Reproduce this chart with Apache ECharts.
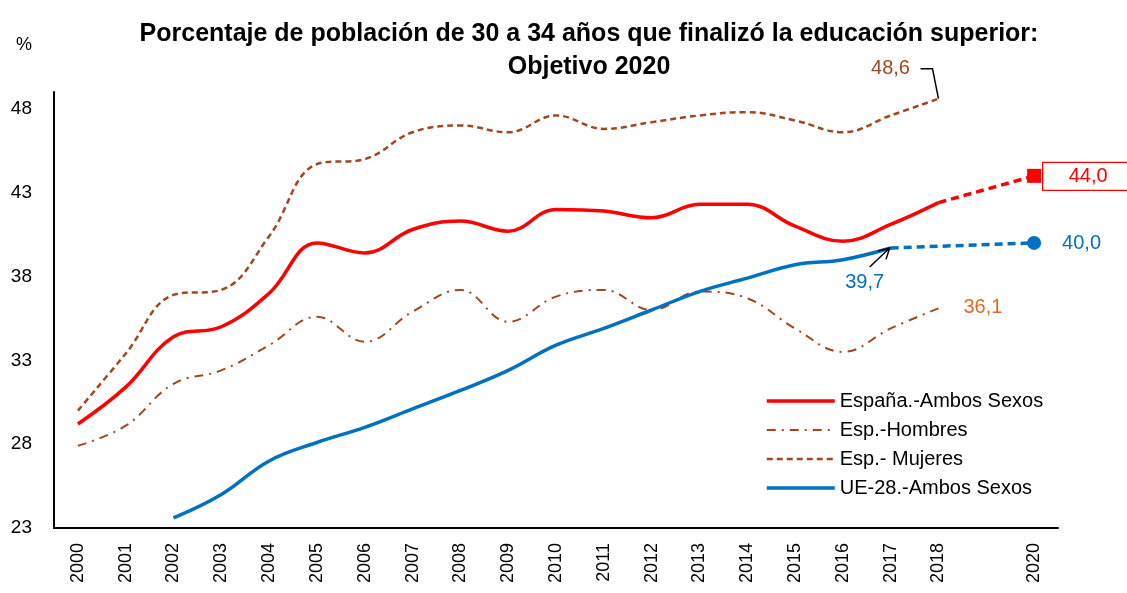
<!DOCTYPE html>
<html>
<head>
<meta charset="utf-8">
<script src="https://cdn.jsdelivr.net/npm/echarts@6/dist/echarts.min.js"></script>
<style>
html,body{margin:0;padding:0;background:#fff;}
#chart{width:1127px;height:593px;}
</style>
</head>
<body>
<div id="chart"></div>
<script>
// ---- data ----
const years = ['2000','2001','2002','2003','2004','2005','2006','2007','2008','2009','2010','2011','2012','2013','2014','2015','2016','2017','2018','2019','2020'];
const hiddenYearLabels = ['2019'];
const yTicks = [23, 28, 33, 38, 43, 48];
const espana  = [29.2,31.4,34.4,35.0,37.0,40.0,39.4,40.8,41.3,40.7,42.0,41.9,41.5,42.3,42.3,41.0,40.1,41.1,42.4,null,null];
const hombres = [27.9,29.1,31.6,32.4,33.9,35.6,34.1,35.9,37.2,35.3,36.8,37.2,36.0,37.1,36.7,34.9,33.5,34.9,36.1,null,null];
const mujeres = [30.0,33.4,36.9,37.2,40.4,44.7,45.0,46.6,47.0,46.6,47.6,46.8,47.2,47.6,47.8,47.3,46.6,47.6,48.6,null,null];
const ue28    = [null,null,23.6,25.0,27.0,28.1,29.0,30.1,31.2,32.4,33.9,34.9,36.0,37.1,37.9,38.7,39.0,39.7,null,null,null];
const objetivoEspana = [null,null,null,null,null,null,null,null,null,null,null,null,null,null,null,null,null,null,42.4,null,44.0];
const objetivoUE     = [null,null,null,null,null,null,null,null,null,null,null,null,null,null,null,null,null,39.7,null,null,40.0];
const seriesNames = ['España.-Ambos Sexos','Esp.-Hombres','Esp.- Mujeres','UE-28.-Ambos Sexos'];

// ---- styles ----
const RED = '#ff0000', BROWN = '#a3461f', BLUE = '#0070c0', ORANGE = '#e2692a';
const FONT = 'Liberation Sans, Arial, sans-serif';
const fmt = v => v.toFixed(1).replace('.', ',');
const lineWidths = [3.5, 2, 2.5, 3.5];

const chart = echarts.init(document.getElementById('chart'), null, {renderer: 'canvas'});

function projData(arr, sym, size) {
  const lastIdx = arr.length - 1;
  return arr.map((v, i) => {
    if (v === null) return null;
    if (i === lastIdx) return {value: v, symbol: sym, symbolSize: size};
    return {value: v, symbol: 'none'};
  });
}

const option = {
  animation: false,
  backgroundColor: '#fff',
  title: {
    text: 'Porcentaje de población de 30 a 34 años que finalizó la educación superior:\nObjetivo 2020',
    left: 584, top: 13, textAlign: 'center',
    textStyle: {fontFamily: FONT, fontWeight: 'bold', fontSize: 25, lineHeight: 33, color: '#000'}
  },
  grid: {left: 54, right: 69, top: 92, bottom: 65},
  legend: {
    data: seriesNames.map((n, i) => ({name: n, lineStyle: {width: lineWidths[i]}})),
    orient: 'vertical',
    left: 760, top: 386,
    itemWidth: 68, itemHeight: 14, itemGap: 9,
    itemStyle: {opacity: 0},
    textStyle: {fontFamily: FONT, fontSize: 20, color: '#000'}
  },
  xAxis: {
    type: 'category',
    data: years,
    boundaryGap: true,
    axisLine: {lineStyle: {color: '#000', width: 2}},
    axisTick: {show: false},
    axisLabel: {
      rotate: 90, interval: 0, margin: 15, color: '#000',
      fontFamily: FONT, fontSize: 18,
      formatter: v => hiddenYearLabels.includes(v) ? '' : v
    },
    splitLine: {show: false}
  },
  yAxis: {
    type: 'value',
    min: 23, max: 49, interval: 5,
    name: '%', nameLocation: 'end', nameGap: 0,
    nameTextStyle: {fontFamily: FONT, fontSize: 18, color: '#000', padding: [0, 60, 38, 0]},
    axisLine: {show: true, lineStyle: {color: '#000', width: 2}},
    axisTick: {show: false},
    splitLine: {show: false},
    axisLabel: {
      color: '#000', fontFamily: FONT, fontSize: 19, margin: 22,
      showMaxLabel: false,
      formatter: v => yTicks.includes(v) ? String(v) : ''
    }
  },
  series: [
    {name: seriesNames[0], type: 'line', data: espana, smooth: 0.4, symbol: 'none',
     lineStyle: {color: RED, width: lineWidths[0]}, itemStyle: {color: RED}, z: 5},
    {name: seriesNames[1], type: 'line', data: hombres, smooth: 0.4, symbol: 'none',
     lineStyle: {color: BROWN, width: lineWidths[1], type: [9, 6, 2, 6]}, itemStyle: {color: BROWN}, z: 3},
    {name: seriesNames[2], type: 'line', data: mujeres, smooth: 0.4, symbol: 'none',
     lineStyle: {color: BROWN, width: lineWidths[2], type: [6, 4]}, itemStyle: {color: BROWN}, z: 3},
    {name: seriesNames[3], type: 'line', data: ue28, smooth: 0.4, symbol: 'none',
     lineStyle: {color: BLUE, width: lineWidths[3]}, itemStyle: {color: BLUE}, z: 4},
    {name: 'Objetivo España', type: 'line', data: projData(objetivoEspana, 'rect', 14), connectNulls: true,
     symbol: 'rect', symbolSize: 14, showSymbol: true,
     lineStyle: {color: RED, width: 3.5, type: [8, 5]}, itemStyle: {color: RED}, z: 5},
    {name: 'Objetivo UE', type: 'line', data: projData(objetivoUE, 'circle', 14), connectNulls: true,
     symbol: 'circle', symbolSize: 14, showSymbol: true,
     lineStyle: {color: BLUE, width: 3.5, type: [8, 5]}, itemStyle: {color: BLUE}, z: 5}
  ]
};
chart.setOption(option);

// ---- annotations placed from data via the chart's own scales ----
function px(cat, val) { return chart.convertToPixel({xAxisIndex: 0, yAxisIndex: 0}, [cat, val]); }
const iLast = years.indexOf('2018');
const iUe = years.indexOf('2017');
const iTgt = years.indexOf('2020');

const pM = px(iLast, mujeres[iLast]);
const pH = px(iLast, hombres[iLast]);
const pE = px(iTgt, objetivoEspana[iTgt]);
const pU = px(iTgt, objetivoUE[iTgt]);
const pU17 = px(iUe, ue28[iUe]);

const numStyle = (color) => ({fontFamily: FONT, fontSize: 20, fill: color});

// arrow for 39,7
const a0 = [pU17[0] - 21, pU17[1] + 19], a1 = [pU17[0] - 1, pU17[1] + 0];
const ang = Math.atan2(a1[1] - a0[1], a1[0] - a0[0]);
const hl = 12, ha = 0.5;
const w1 = [a1[0] - hl * Math.cos(ang - ha), a1[1] - hl * Math.sin(ang - ha)];
const w2 = [a1[0] - hl * Math.cos(ang + ha), a1[1] - hl * Math.sin(ang + ha)];

chart.setOption({
  graphic: [
    {type: 'polyline', shape: {points: [[pM[0] - 18, pM[1] - 30], [pM[0] - 6, pM[1] - 30], [pM[0], pM[1]]]},
     style: {stroke: '#000', lineWidth: 1.5, fill: null}, z: 10},
    {type: 'text', x: pM[0] - 48, y: pM[1] - 30,
     style: Object.assign({text: fmt(mujeres[iLast]), align: 'center', verticalAlign: 'middle'}, numStyle(BROWN)), z: 10},
    {type: 'rect', shape: {x: pE[0] + 8.5, y: pE[1] - 13.5, width: 100, height: 28},
     style: {stroke: RED, lineWidth: 1.2, fill: '#fff'}, z: 10},
    {type: 'text', x: pE[0] + 54, y: pE[1] + 1,
     style: Object.assign({text: fmt(objetivoEspana[iTgt]), align: 'center', verticalAlign: 'middle'}, numStyle(RED)), z: 11},
    {type: 'text', x: pU[0] + 28, y: pU[1] + 1,
     style: Object.assign({text: fmt(objetivoUE[iTgt]), align: 'left', verticalAlign: 'middle'}, numStyle(BLUE)), z: 10},
    {type: 'text', x: pU17[0] - 26, y: pU17[1] + 35,
     style: Object.assign({text: fmt(ue28[iUe]), align: 'center', verticalAlign: 'middle'}, numStyle(BLUE)), z: 10},
    {type: 'polyline', shape: {points: [a0, a1]}, style: {stroke: '#000', lineWidth: 1.5, fill: null}, z: 10},
    {type: 'polyline', shape: {points: [w1, a1, w2]}, style: {stroke: '#000', lineWidth: 1.5, fill: null}, z: 10},
    {type: 'text', x: pH[0] + 25, y: pH[1] - 1,
     style: Object.assign({text: fmt(hombres[iLast]), align: 'left', verticalAlign: 'middle'}, numStyle(ORANGE)), z: 10}
  ]
});
</script>
</body>
</html>
